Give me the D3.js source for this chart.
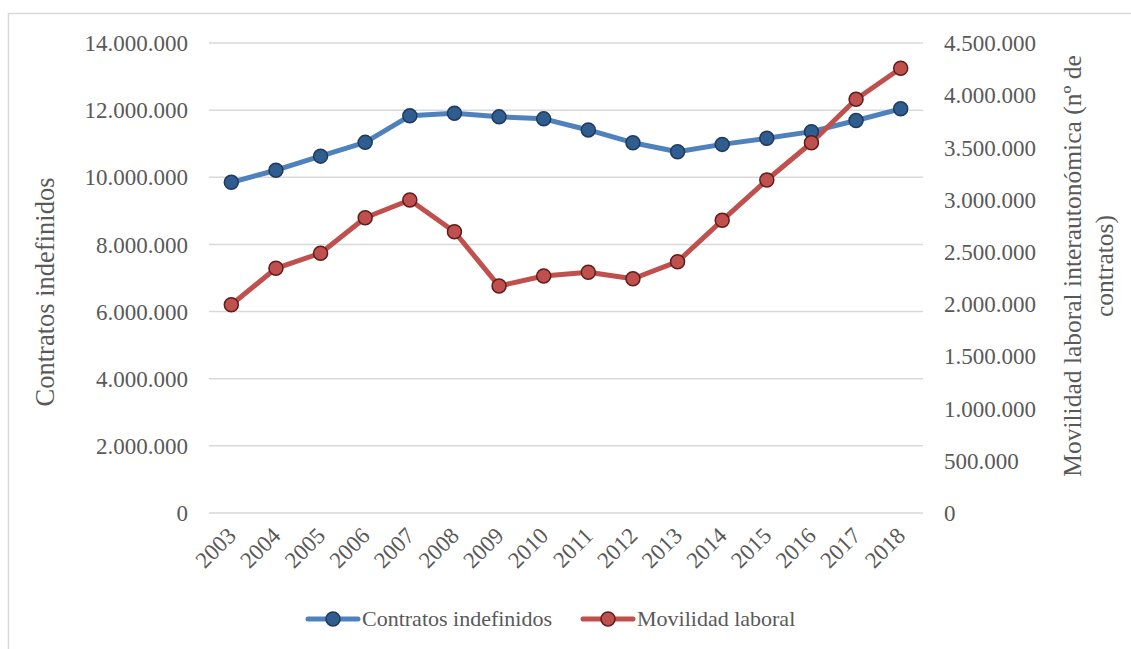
<!DOCTYPE html>
<html><head><meta charset="utf-8">
<script src="https://cdn.jsdelivr.net/npm/d3@7"></script>
<style>
body{margin:0;background:#fff;}
svg text{font-family:"Liberation Serif","Times New Roman",serif !important;fill:#595959;}
</style></head>
<body>
<svg id="chart" width="1131" height="649" font-family="Liberation Serif"></svg>
<script>
const years = ["2003","2004","2005","2006","2007","2008","2009","2010","2011","2012","2013","2014","2015","2016","2017","2018"];
const contratos = [9850000,10210000,10630000,11040000,11830000,11910000,11800000,11740000,11410000,11030000,10760000,10980000,11160000,11360000,11690000,12040000];
const movilidad = [1994000,2343000,2487000,2827000,2997000,2693000,2173000,2269000,2305000,2243000,2406000,2802000,3188000,3545000,3961000,4258000];
const leftTicks = [0,2000000,4000000,6000000,8000000,10000000,12000000,14000000];
const rightTicks = [0,500000,1000000,1500000,2000000,2500000,3000000,3500000,4000000,4500000];
const seriesNames = ["Contratos indefinidos","Movilidad laboral"];
const leftTitle = "Contratos indefinidos";
const rightTitleLines = ["Movilidad laboral interautonómica (nº de","contratos)"];

const FONT = "Liberation Serif, Times New Roman, serif";
const svg = d3.select("#chart");
const fmt = v => v === 0 ? "0" : d3.format(",")(v).replace(/,/g,".");

svg.append("rect").attr("x",8.5).attr("y",13.5).attr("width",1130).attr("height",640)
  .attr("fill","#fff").attr("stroke","#d9d9d9").attr("stroke-width",1.5);

const x = d3.scalePoint().domain(years).range([209,923]).padding(0.5);
const yL = d3.scaleLinear().domain([0,14000000]).range([513,43]);
const yR = d3.scaleLinear().domain([0,4500000]).range([513,43]);

// gridlines
svg.append("g").selectAll("line").data(leftTicks).join("line")
  .attr("x1",209).attr("x2",923).attr("y1",d=>yL(d)).attr("y2",d=>yL(d))
  .attr("stroke","#d9d9d9").attr("stroke-width",1.5);

// left axis
const gL = svg.append("g").attr("transform","translate(196,0)")
  .call(d3.axisLeft(yL).tickValues(leftTicks).tickFormat(fmt).tickSize(0).tickPadding(8));
gL.attr("font-family",FONT);
gL.select(".domain").remove();
gL.selectAll("text").attr("font-size",23).attr("dy","0.33em");

// right axis
const gR = svg.append("g").attr("transform","translate(936,0)")
  .call(d3.axisRight(yR).tickValues(rightTicks).tickFormat(fmt).tickSize(0).tickPadding(8));
gR.attr("font-family",FONT);
gR.select(".domain").remove();
gR.selectAll("text").attr("font-size",23).attr("dy","0.33em");

// x axis labels
const gX = svg.append("g");
gX.selectAll("text").data(years).join("text")
  .attr("transform",d=>`translate(${x(d)+6},${537}) rotate(-45)`)
  .attr("text-anchor","end").attr("font-family",FONT).attr("font-size",23).text(d=>d);

// axis titles
svg.append("text").attr("transform","translate(54,292) rotate(-90)")
  .attr("text-anchor","middle").attr("font-family",FONT).attr("font-size",26.5).text(leftTitle);
const rt = svg.append("text").attr("transform","translate(1081,266) rotate(-90)")
  .attr("text-anchor","middle").attr("font-family",FONT).attr("font-size",25.5);
rt.selectAll("tspan").data(rightTitleLines).join("tspan")
  .attr("x",0).attr("dy",(d,i)=>i===0?"0":"32").text(d=>d);

const series = [
  {name:seriesNames[0], values:contratos, y:yL, line:"#4f81bd", fill:"#2f5d8f", stroke:"#1f3a5c"},
  {name:seriesNames[1], values:movilidad, y:yR, line:"#c0504d", fill:"#c0504d", stroke:"#5e1c1b"}
];
const line = d3.line();
series.forEach(s=>{
  const pts = years.map((yr,i)=>[x(yr), s.y(s.values[i])]);
  svg.append("path").attr("d",line(pts)).attr("fill","none")
    .attr("stroke",s.line).attr("stroke-width",5).attr("stroke-linejoin","round").attr("stroke-linecap","round");
});
series.forEach(s=>{
  svg.append("g").selectAll("circle").data(years).join("circle")
    .attr("cx",d=>x(d)).attr("cy",(d,i)=>s.y(s.values[i])).attr("r",7)
    .attr("fill",s.fill).attr("stroke",s.stroke).attr("stroke-width",1.5);
});

// legend
const legX = [308,583];
series.forEach((s,i)=>{
  const g = svg.append("g").attr("transform",`translate(${legX[i]},619)`);
  g.append("line").attr("x1",0).attr("x2",50).attr("stroke",s.line).attr("stroke-width",5).attr("stroke-linecap","round");
  g.append("circle").attr("cx",25).attr("r",7).attr("fill",s.fill).attr("stroke",s.stroke).attr("stroke-width",1.5);
  g.append("text").attr("x",54).attr("dy","0.33em").attr("font-family",FONT).attr("font-size",22).text(s.name);
});
</script>
</body></html>
